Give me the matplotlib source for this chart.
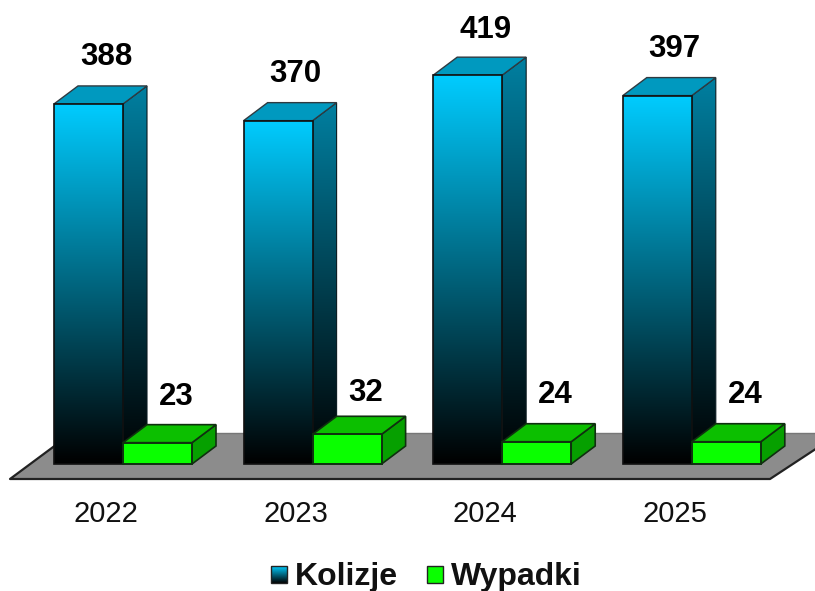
import matplotlib
matplotlib.use("Agg")
import matplotlib.pyplot as plt
from matplotlib.patches import Polygon
import numpy as np

plt.rcParams['font.family'] = ['Liberation Sans', 'DejaVu Sans']

years = ['2022', '2023', '2024', '2025']
kolizje = [388, 370, 419, 397]
wypadki = [23, 32, 24, 24]

W, H = 815, 591
PX_X = 189.6  # pikseli na kategorie
PX_Y = 0.928  # pikseli na kolizje
X0 = 106  # srodek pierwszej kategorii
Y0 = 464  # linia bazowa

bar_w = 69 / PX_X
dep_x = 24 / PX_X
dep_y = 18 / PX_Y

# odstep etykiet nad slupkiem, w pikselach
gap_kolizje = [29, 29, 27, 29]
gap_wypadki = [28, 23, 29, 29]

fig = plt.figure(figsize=(W / 100, H / 100), dpi=100, facecolor='white')
ax = fig.add_axes([0, 0, 1, 1])
xlim = (-X0 / PX_X, (W - X0) / PX_X)
ylim = ((Y0 - H) / PX_Y, Y0 / PX_Y)


def px(x, y):
    # piksele obrazka -> jednostki danych (tylko dla podlogi i legendy)
    return (x - X0) / PX_X, (Y0 - y) / PX_Y


def gradient_face(points, top, bottom, z):
    pts = np.array(points)
    grad = np.linspace(0, 1, 256)[:, None, None]
    img = np.array(top)[None, None, :] * (1 - grad) + np.array(bottom)[None, None, :] * grad
    ext = [pts[:, 0].min(), pts[:, 0].max(), pts[:, 1].min(), pts[:, 1].max()]
    im = ax.imshow(img, extent=ext, aspect='auto', origin='upper', zorder=z, interpolation='bilinear')
    im.set_clip_path(Polygon(pts, closed=True, transform=ax.transData))


def bar3d(left, value):
    r = left + bar_w
    front = [(left, 0), (r, 0), (r, value), (left, value)]
    side = [(r, 0), (r + dep_x, dep_y), (r + dep_x, value + dep_y), (r, value)]
    roof = [(left, value), (r, value), (r + dep_x, value + dep_y), (left + dep_x, value + dep_y)]
    return front, side, roof


# Podloga
floor = [px(10, 479), px(72, 433), px(840, 433), px(770, 479)]
ax.add_patch(Polygon(floor, closed=True, facecolor='#8c8c8c', edgecolor='none', zorder=1))
ax.plot(*zip(floor[1], floor[2]), color='#777777', lw=1, zorder=1)
ax.plot(*zip(floor[1], floor[0], floor[3], floor[2]), color='#222222', lw=1.6, zorder=1)

# Slupki
for i, (k, w) in enumerate(zip(kolizje, wypadki)):
    left = i - 52 / PX_X
    front, side, roof = bar3d(left, k)
    gradient_face(side, (0.0, 0.50, 0.63), (0, 0, 0), 2)
    ax.add_patch(Polygon(side, closed=True, facecolor='none', edgecolor='#0a1a20', lw=0.8, zorder=2.1))
    ax.add_patch(Polygon(roof, closed=True, facecolor='#0099bf', edgecolor='#303a40', lw=1, zorder=2.1))
    gradient_face(front, (0.0, 0.80, 1.0), (0, 0, 0), 2.2)
    ax.add_patch(Polygon(front, closed=True, facecolor='none', edgecolor='#101010', lw=1.2, zorder=2.3))

    left2 = left + bar_w
    front, side, roof = bar3d(left2, w)
    ax.add_patch(Polygon(side, closed=True, facecolor='#06a000', edgecolor='#103010', lw=1.2, zorder=3))
    ax.add_patch(Polygon(roof, closed=True, facecolor='#0cbf00', edgecolor='#103010', lw=1.2, zorder=3))
    ax.add_patch(Polygon(front, closed=True, facecolor='#0aff00', edgecolor='#103010', lw=1.4, zorder=3.1))

    # Etykiety
    ax.annotate(str(k), (i, k + dep_y), xytext=(0, gap_kolizje[i] * 0.72), textcoords='offset points', ha='center',
                va='center', fontsize=22.5, fontweight='bold', color='black', zorder=5)
    ax.annotate(str(w), (i + 70 / PX_X, w + dep_y), xytext=(0, gap_wypadki[i] * 0.72), textcoords='offset points',
                ha='center', va='center', fontsize=22.5, fontweight='bold', color='black', zorder=5)
    ax.text(i, px(0, 514)[1], years[i], ha='center', va='center', fontsize=21, color='#111111', zorder=5)

# Legenda
x1, y1 = px(271, 583)
x2, y2 = px(287, 566)
gradient_face([(x1, y1), (x2, y1), (x2, y2), (x1, y2)], (0.0, 0.80, 1.0), (0, 0, 0), 4)
ax.add_patch(Polygon([(x1, y1), (x2, y1), (x2, y2), (x1, y2)], closed=True, facecolor='none', edgecolor='#222222', lw=1, zorder=4.1))
x1, y1 = px(427, 583)
x2, y2 = px(443, 566)
ax.add_patch(Polygon([(x1, y1), (x2, y1), (x2, y2), (x1, y2)], closed=True, facecolor='#0aff00', edgecolor='#222222', lw=1, zorder=4.1))
ax.text(px(295, 0)[0], px(0, 577)[1], 'Kolizje', ha='left', va='center', fontsize=23, fontweight='bold', color='#111111')
ax.text(px(451, 0)[0], px(0, 577)[1], 'Wypadki', ha='left', va='center', fontsize=23, fontweight='bold', color='#111111')

ax.set_xlim(*xlim)
ax.set_ylim(*ylim)
ax.axis('off')
fig.savefig('out.png', dpi=100, facecolor='white')
